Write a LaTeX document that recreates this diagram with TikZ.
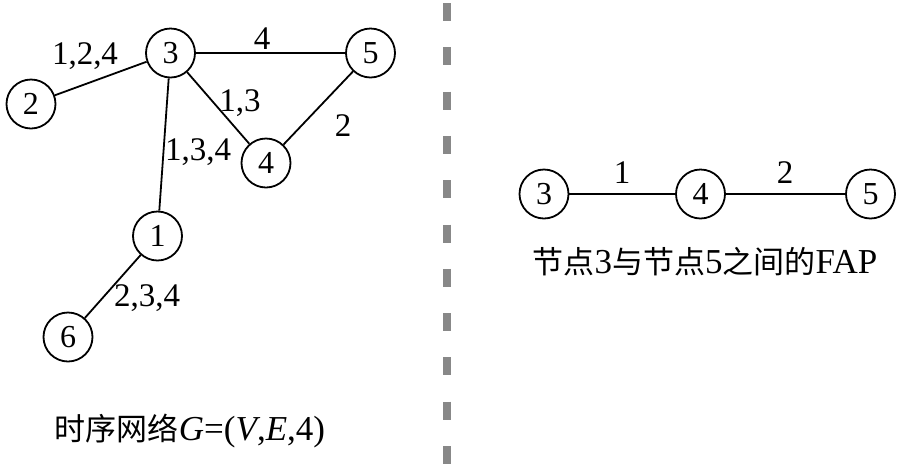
\documentclass[tikz,border=0pt]{standalone}
\usepackage{fontspec}
\setmainfont{Liberation Serif}
\newfontfamily\cjk{Noto Sans CJK SC}
\begin{document}
\begin{tikzpicture}[x=1pt,y=-1pt,
  vtx/.style={circle,draw,line width=1.8pt,minimum size=49pt,inner sep=0pt,font=\fontsize{32}{36}\selectfont},
  edge/.style={line width=1.8pt},
  lbl/.style={font=\fontsize{33}{38}\selectfont,inner sep=0pt},
  captxt/.style={font=\fontsize{35}{40}\selectfont,inner sep=0pt},
  sep/.style={line width=8pt,draw={rgb,255:red,136;green,136;blue,136},dash pattern=on 18pt off 26.3pt}]
\useasboundingbox (0,0) rectangle (900,467);
% left graph
\node[vtx] (n3) at (170.5,53) {3};
\node[vtx] (n5) at (370.5,53) {5};
\node[vtx] (n2) at (31,104) {2};
\node[vtx] (n4) at (266,163) {4};
\node[vtx] (n1) at (157.5,236) {1};
\node[vtx] (n6) at (68,337) {6};
\draw[edge] (n3) -- (n5);
\draw[edge] (n3) -- (n2);
\draw[edge] (n3) -- (n4);
\draw[edge] (n5) -- (n4);
\draw[edge] (n3) -- (n1);
\draw[edge] (n1) -- (n6);
\node[lbl] (l324) at (85,56) {1,2,4};
\node[lbl] (l35) at (262,39) {4};
\node[lbl] (l34) at (240,103) {1,3};
\node[lbl] (l54) at (343,126) {2};
\node[lbl] (l31) at (198,152) {1,3,4};
\node[lbl] (l16) at (147,298) {2,3,4};
\node[captxt] (capL) at (190,431) {{\cjk\fontsize{31}{36}\selectfont 时序网络}\textit{G}=(\textit{V},\textit{E},4)};
% separator
\coordinate (sTop) at (447,3);
\coordinate (sBot) at (447,467);
\draw[sep] (sTop) -- (sBot);
% right path
\node[vtx] (r3) at (544,194) {3};
\node[vtx] (r4) at (700.5,194) {4};
\node[vtx] (r5) at (870.5,194) {5};
\draw[edge] (r3) -- (r4);
\draw[edge] (r4) -- (r5);
\node[lbl] (rl1) at (622,173) {1};
\node[lbl] (rl2) at (785,173) {2};
\node[captxt] (capR) at (705,262) {{\cjk\fontsize{31}{36}\selectfont 节点}3{\cjk\fontsize{31}{36}\selectfont 与节点}5{\cjk\fontsize{31}{36}\selectfont 之间的}FAP};
\end{tikzpicture}
\end{document}
